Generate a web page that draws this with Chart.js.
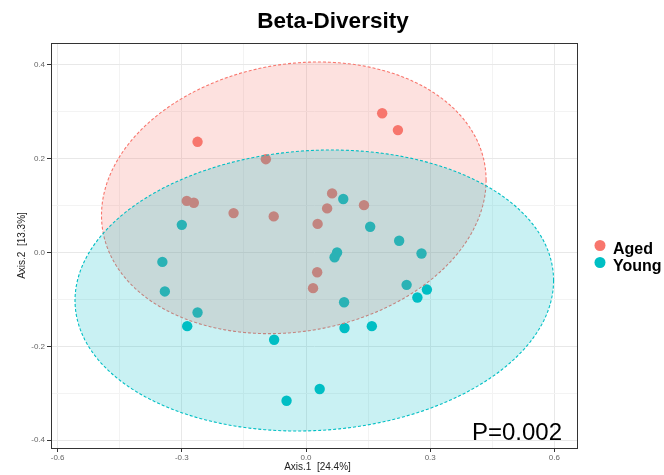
<!DOCTYPE html>
<html>
<head>
<meta charset="utf-8">
<script src="https://cdn.jsdelivr.net/npm/chart.js@4.4.1/dist/chart.umd.min.js"></script>
<style>
  html, body { margin: 0; padding: 0; background: #fff; }
  #wrap { width: 664px; height: 475px; position: relative; }
</style>
</head>
<body>
<div id="wrap"><canvas id="c" width="664" height="475"></canvas></div>
<script>
// ---- data ----
const groups = ["Aged", "Young"];
const agedX = [-0.262, -0.097, -0.288, -0.271, -0.175, -0.078, 0.028, 0.051, 0.063, 0.027, 0.017, 0.184, 0.222, 0.140];
const agedY = [0.236, 0.199, 0.110, 0.106, 0.084, 0.077, 0.061, 0.094, 0.126, -0.042, -0.076, 0.297, 0.261, 0.101];
const youngX = [-0.300, -0.347, -0.341, -0.262, -0.287, -0.077, 0.075, 0.069, 0.090, 0.155, 0.225, 0.279, 0.243, 0.292, 0.269, 0.092, 0.093, 0.159, 0.033, -0.047];
const youngY = [0.059, -0.020, -0.083, -0.128, -0.157, -0.186, 0.000, -0.010, 0.114, 0.055, 0.025, -0.002, -0.069, -0.079, -0.096, -0.106, -0.161, -0.157, -0.291, -0.316];
// ellipse: [centerX, centerY, halfWidth, halfHeight, yOffsetAtXExtreme]
const agedEllipse = [-0.0295, 0.1166, 0.4645, 0.2896, 0.0373];
const youngEllipse = [0.020, -0.081, 0.578, 0.2996, 0.0213];
const xMajor = [-0.6, -0.3, 0.0, 0.3, 0.6];
const xMinor = [-0.45, -0.15, 0.15, 0.45];
const yMajor = [-0.4, -0.2, 0.0, 0.2, 0.4];
const yMinor = [-0.3, -0.1, 0.1, 0.3];
const pValueText = "P=0.002";
const titleText = "Beta-Diversity";
const xTitle = "Axis.1  [24.4%]";
const yTitle = "Axis.2  [13.3%]";

const colAged = "#F8766D";
const colYoung = "#00BFC4";
const FONT = "'Liberation Sans', Arial, Helvetica, sans-serif";

function toPts(xs, ys) { return xs.map((x, i) => ({ x: x, y: ys[i] })); }
function isMajor(list, v) { return list.some(m => Math.abs(m - v) < 1e-9); }

const overlay = {
  id: 'overlay',
  afterDatasetsDraw(chart) {
    const ctx = chart.ctx;
    const xs = chart.scales.x, ys = chart.scales.y;
    const drawEllipse = (p, fill, stroke) => {
      const [cx, cy, hw, hh, sh] = p;
      const k = Math.sqrt(hh * hh - sh * sh);
      const N = 240;
      ctx.save();
      ctx.beginPath();
      for (let i = 0; i <= N; i++) {
        const t = 2 * Math.PI * i / N;
        const px = xs.getPixelForValue(cx + hw * Math.cos(t));
        const py = ys.getPixelForValue(cy + sh * Math.cos(t) + k * Math.sin(t));
        if (i === 0) ctx.moveTo(px, py); else ctx.lineTo(px, py);
      }
      ctx.closePath();
      ctx.fillStyle = fill;
      ctx.fill();
      ctx.setLineDash([3, 2]);
      ctx.lineWidth = 1.1;
      ctx.strokeStyle = stroke;
      ctx.stroke();
      ctx.restore();
    };
    drawEllipse(agedEllipse, 'rgba(248,118,109,0.22)', colAged);
    drawEllipse(youngEllipse, 'rgba(0,191,196,0.21)', colYoung);

    const a = chart.chartArea;
    ctx.save();
    // panel border
    ctx.strokeStyle = '#333333';
    ctx.lineWidth = 1;
    ctx.strokeRect(Math.round(a.left) + 0.5, Math.round(a.top) + 0.5, Math.round(a.right - a.left) - 1, Math.round(a.bottom - a.top));
    // P value
    ctx.fillStyle = '#000';
    ctx.font = '24px ' + FONT;
    ctx.textAlign = 'right';
    ctx.textBaseline = 'alphabetic';
    ctx.fillText(pValueText, a.right - 16, a.bottom - 8);
    // title
    ctx.font = 'bold 22.5px ' + FONT;
    ctx.textAlign = 'center';
    ctx.fillText(titleText, 333, 28);
    // axis titles
    ctx.font = '10px ' + FONT;
    ctx.fillStyle = '#222';
    ctx.textBaseline = 'middle';
    ctx.fillText(xTitle, (a.left + a.right) / 2 + 3, 467);
    ctx.save();
    ctx.translate(22, (a.top + a.bottom) / 2);
    ctx.rotate(-Math.PI / 2);
    ctx.fillText(yTitle, 0, 0);
    ctx.restore();
    // legend
    const lx = 600, ly = [245.5, 262.5];
    const cols = [colAged, colYoung];
    groups.forEach((g, i) => {
      ctx.beginPath();
      ctx.arc(lx, ly[i], 5.5, 0, 2 * Math.PI);
      ctx.fillStyle = cols[i];
      ctx.fill();
      ctx.fillStyle = '#000';
      ctx.font = 'bold 16px ' + FONT;
      ctx.textAlign = 'left';
      ctx.textBaseline = 'alphabetic';
      ctx.fillText(g, 613, ly[i] + 8.5);
    });
    ctx.restore();
  }
};

const gridColor = (major) => (c) => isMajor(major, c.tick.value) ? '#E8E8E8' : '#F3F3F3';
const tickColor = (major) => (c) => isMajor(major, c.tick.value) ? '#333333' : 'rgba(0,0,0,0)';

new Chart(document.getElementById('c'), {
  type: 'scatter',
  data: {
    datasets: [
      { label: groups[0], data: toPts(agedX, agedY), backgroundColor: colAged, pointBackgroundColor: colAged, pointBorderWidth: 0, pointRadius: 5.2 },
      { label: groups[1], data: toPts(youngX, youngY), backgroundColor: colYoung, pointBackgroundColor: colYoung, pointBorderWidth: 0, pointRadius: 5.2 }
    ]
  },
  options: {
    responsive: false,
    animation: false,
    events: [],
    layout: { padding: { top: 43, right: 86, left: 0, bottom: 0 } },
    plugins: { legend: { display: false }, title: { display: false }, tooltip: { enabled: false } },
    scales: {
      x: {
        type: 'linear',
        min: -0.616, max: 0.657,
        afterBuildTicks: (s) => { s.ticks = xMajor.concat(xMinor).sort((p, q) => p - q).map(v => ({ value: v })); },
        afterFit: (s) => { s.height = 27; },
        border: { display: false },
        grid: { color: gridColor(xMajor), tickColor: tickColor(xMajor), tickLength: 4, lineWidth: 1 },
        ticks: {
          autoSkip: false, maxRotation: 0, padding: 1, color: '#666',
          font: { size: 8, family: FONT },
          callback: (v) => isMajor(xMajor, v) ? Number(v).toFixed(1) : ''
        }
      },
      y: {
        type: 'linear',
        min: -0.4168, max: 0.4467,
        afterBuildTicks: (s) => { s.ticks = yMajor.concat(yMinor).sort((p, q) => p - q).map(v => ({ value: v })); },
        afterFit: (s) => { s.width = 51; },
        border: { display: false },
        grid: { color: gridColor(yMajor), tickColor: tickColor(yMajor), tickLength: 4, lineWidth: 1 },
        ticks: {
          autoSkip: false, padding: 2, color: '#666',
          font: { size: 8, family: FONT },
          callback: (v) => isMajor(yMajor, v) ? Number(v).toFixed(1) : ''
        }
      }
    }
  },
  plugins: [overlay]
});
</script>
</body>
</html>
